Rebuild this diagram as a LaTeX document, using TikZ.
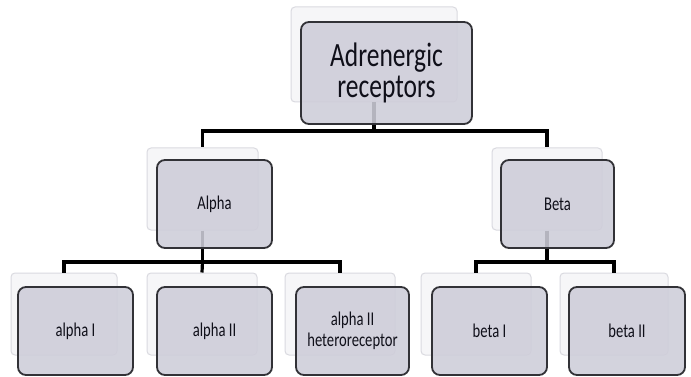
\documentclass[tikz,border=0pt]{standalone}
\usepackage{fontspec}
\newfontfamily\calfont[FakeStretch=0.75]{Carlito}
\definecolor{frontfill}{RGB}{206,205,217}
\definecolor{frontdraw}{RGB}{50,50,55}
\definecolor{backfill}{RGB}{246,246,248}
\definecolor{backdraw}{RGB}{218,218,224}
\definecolor{txt}{RGB}{15,15,25}
\tikzset{
  backbox/.style={draw=backdraw, fill=backfill, line width=1pt, rounded corners=4pt, inner sep=0pt, minimum height=82pt},
  frontbox/.style={draw=frontdraw, fill=frontfill, fill opacity=0.88, text opacity=1, line width=1.8pt, rounded corners=8pt, inner sep=0pt, minimum height=88pt, text=txt, align=center, font=\calfont\fontsize{19.5}{21}\selectfont},
  conn/.style={draw=black, line width=3.2pt}
}
\begin{document}
\begin{tikzpicture}[x=1pt,y=-1pt]
\useasboundingbox (0,0) rectangle (691,377);
\fill[white] (0,0) rectangle (691,377);
% back boxes
\node[backbox, minimum width=166pt, minimum height=95pt] (topB) at (374,54.5) {};
\node[backbox, minimum width=111pt] (alphaB) at (202.5,189) {};
\node[backbox, minimum width=110pt] (betaB) at (547,189) {};
\node[backbox, minimum width=106pt] (a1B) at (64,314) {};
\node[backbox, minimum width=110pt] (a2B) at (202,314) {};
\node[backbox, minimum width=110pt] (ahB) at (340,314) {};
\node[backbox, minimum width=110pt] (b1B) at (476,314) {};
\node[backbox, minimum width=108pt] (b2B) at (614,314) {};
% connectors
\coordinate (j1) at (374,131);
\coordinate (j2) at (202.5,262);
\coordinate (j3) at (547,262);
\draw[conn] (topB.south) -- (j1) -| (alphaB.north);
\draw[conn] (j1) -| (betaB.north);
\draw[conn] (alphaB.south) -- (j2) -| (a1B.north);
\draw[conn] (j2) -- (a2B.north);
\draw[conn] (j2) -| (ahB.north);
\draw[conn] (betaB.south) -- (j3) -| (b1B.north);
\draw[conn] (j3) -| (b2B.north);
% front boxes
\node[frontbox, minimum width=171pt, minimum height=102pt, font=\calfont\fontsize{34}{31}\selectfont] (top) at (386.5,73) {Adrenergic\\receptors};
\node[frontbox, minimum width=115pt] (alpha) at (214.5,204) {Alpha};
\node[frontbox, minimum width=113pt] (beta) at (557.5,204) {Beta};
\node[frontbox, minimum width=115pt] (a1) at (75.5,331) {alpha I};
\node[frontbox, minimum width=115pt] (a2) at (214.5,331) {alpha II};
\node[frontbox, minimum width=113pt] (ah) at (352.5,331) {alpha II\\heteroreceptor};
\node[frontbox, minimum width=115pt] (b1) at (489.5,331) {beta I};
\node[frontbox, minimum width=116pt] (b2) at (627,331) {beta II};
\end{tikzpicture}
\end{document}
